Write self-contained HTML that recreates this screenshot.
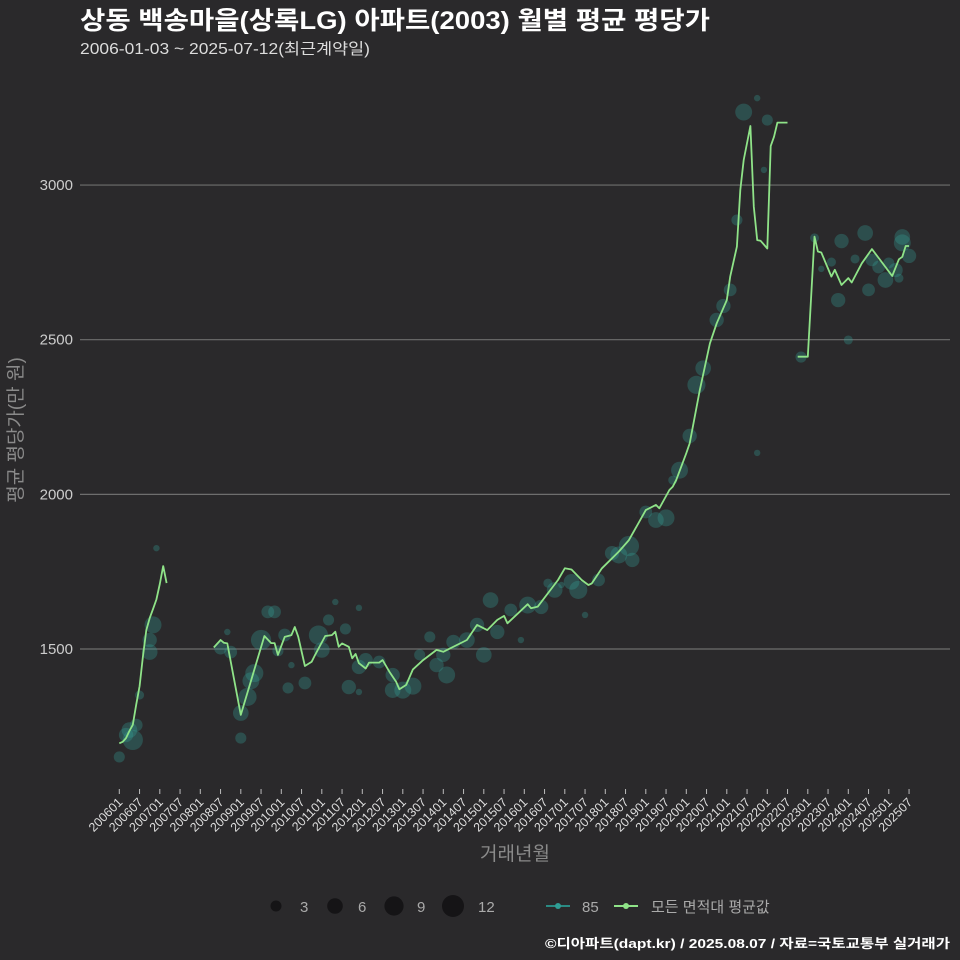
<!DOCTYPE html>
<html><head><meta charset="utf-8">
<style>
html,body{margin:0;padding:0;background:#2a292b;}
svg{display:block;font-family:"Liberation Sans","Noto Sans CJK KR",sans-serif;}
</style></head>
<body>
<svg id="chart" width="960" height="960" viewBox="0 0 960 960">
<rect width="960" height="960" fill="#2a292b"/>
<text x="80" y="29" font-size="25" font-weight="bold" fill="#ffffff" textLength="630" lengthAdjust="spacingAndGlyphs">상동 백송마을(상록LG) 아파트(2003) 월별 평균 평당가</text>
<text x="80" y="54" font-size="15.5" fill="#dddddd" textLength="290" lengthAdjust="spacingAndGlyphs">2006-01-03 ~ 2025-07-12(최근계약일)</text>
<g id="grid"></g>
<g id="yticks"></g>
<g id="xticks"></g>
<g id="bubbles"></g>
<g id="line"></g>
<text transform="translate(22,430) rotate(-90)" text-anchor="middle" font-size="19" fill="#8a8a8a">평균 평당가(만 원)</text>
<text x="515" y="860" text-anchor="middle" font-size="19" fill="#8a8a8a">거래년월</text>
<g>
<circle cx="276" cy="906" r="5.5" fill="#151416"/>
<text x="300" y="912" font-size="15" fill="#aaaaaa">3</text>
<circle cx="335" cy="906" r="7.8" fill="#151416"/>
<text x="358" y="912" font-size="15" fill="#aaaaaa">6</text>
<circle cx="394" cy="906" r="9.6" fill="#151416"/>
<text x="417" y="912" font-size="15" fill="#aaaaaa">9</text>
<circle cx="453" cy="906" r="11" fill="#151416"/>
<text x="478" y="912" font-size="15" fill="#aaaaaa">12</text>
</g>
<g>
<line x1="546" y1="906" x2="570" y2="906" stroke="#2a8a83" stroke-width="2"/>
<circle cx="558" cy="906" r="3" fill="#2f9e95"/>
<text x="582" y="912" font-size="15" fill="#aaaaaa">85</text>
<line x1="614" y1="906" x2="638" y2="906" stroke="#8fe388" stroke-width="2"/>
<circle cx="626" cy="906" r="3" fill="#8fe388"/>
<text x="651" y="912" font-size="15" fill="#aaaaaa">모든 면적대 평균값</text>
</g>
<text x="950" y="948" text-anchor="end" font-size="13" font-weight="bold" fill="#ffffff" textLength="405" lengthAdjust="spacingAndGlyphs">©디아파트(dapt.kr) / 2025.08.07 / 자료=국토교통부 실거래가</text>
</svg>
<script>
// y ticks
const yTicks = [1500, 2000, 2500, 3000];
// line series: months since 2006-01, null = gap
const lineMonths = [0,1,2,3,4,5,6,7,8,9,10,11,12,13,14,15,
28,30,31,32,36,43,45,46,47,49,51,52,53,55,57,58,61,63,64,65,66,68,69,70,71,73,74,77,78,80,82,83,85,87,90,94,96,103,106,109,112,114,115,121,122,124,130,132,134,137,139,140,143,148,151,156,159,160,163,164,165,168,169,172,175,177,180,181,183,184,185,187,188,189,190,192,193,194,195,198,199,
201,204,206,207,208,211,212,214,216,217,220,223,225,229,231,232,233,234];
const lineValues = [1195,1200,1212,1235,1255,1320,1380,1475,1561,1600,1630,1660,1710,1768,1713,null,
1505,1529,1520,1518,1287,1542,1519,1519,1481,1539,1545,1571,1540,1445,1459,1481,1542,1545,1556,1507,1518,1507,1470,1484,1454,1437,1456,1456,1464,1427,1394,1370,1384,1434,1464,1497,1491,1529,1578,1561,1594,1607,1583,1645,1632,1637,1723,1761,1757,1723,1707,1712,1761,1815,1852,1949,1966,1955,2014,2025,2046,2133,2165,2337,2488,2553,2628,2704,2801,2984,3081,3191,2930,2822,2820,2795,3126,3156,3202,3202,null,
2445,2445,2833,2785,2782,2704,2726,2677,2699,2685,2747,2793,2764,2706,2760,2768,2803,2803];
// bubble series (85㎡)
const bubMonths = [0,2,4,3,5,6,9,9,10,11,
30,32,33,36,36,38,39,40,42,44,46,49,51,50,47,55,59,60,62,64,67,68,71,71,71,73,77,81,81,84,87,89,92,94,96,97,99,103,106,108,110,112,116,119,121,125,127,129,131,134,136,138,142,146,148,151,152,156,159,162,164,166,169,171,173,177,179,181,183,185,189,189,191,192,
202,206,208,211,213,214,216,218,221,222,223,225,227,228,230,231,232,232,234];
const bubValues = [1151,1222,1206,1238,1254,1351,1490,1529,1578,1826,
1503,1555,1490,1212,1293,1345,1397,1422,1529,1620,1620,1545,1448,1374,1494,1390,1545,1497,1594,1652,1565,1377,1633,1361,1442,1464,1458,1416,1367,1367,1380,1481,1539,1448,1481,1416,1523,1529,1578,1481,1658,1555,1626,1529,1642,1636,1713,1691,1707,1717,1691,1610,1723,1810,1804,1833,1788,1943,1917,1924,2046,2078,2189,2354,2408,2564,2609,2661,2887,3236,3281,2134,3049,3210,
2444,2829,2729,2751,2628,2819,2499,2761,2845,2661,2758,2735,2693,2748,2725,2699,2813,2832,2771];
const bubCounts = [3,5,10,6,4,2,6,5,7,1,
4,1,4,3,6,8,7,8,10,4,4,4,1,3,3,4,9,6,3,1,3,5,1,1,5,5,4,5,6,7,7,3,3,5,5,7,5,6,5,6,6,5,4,1,7,5,2,6,1,6,8,1,4,5,7,10,5,4,6,7,2,7,5,8,6,5,5,4,3,7,1,1,1,3,
3,2,1,2,5,5,2,2,6,4,4,4,6,3,5,2,7,6,5];
const xTickLabels = [];
for (let y = 2006; y <= 2025; y++) { xTickLabels.push(y + "01"); xTickLabels.push(y + "07"); }

const NS = "http://www.w3.org/2000/svg";
function xScale(m){ return 119.3 + m * 3.375; }
function yScale(v){ return 649 - (v - 1500) * 0.3093; }
function mk(tag, attrs, parent){ const e = document.createElementNS(NS, tag); for (const k in attrs) e.setAttribute(k, attrs[k]); parent.appendChild(e); return e; }

const grid = document.getElementById('grid'), yt = document.getElementById('yticks');
yTicks.forEach(v => {
  const l = mk('line', {x1:80, x2:950, y1:yScale(v), y2:yScale(v), stroke:'#6e6e6e', 'stroke-width':1.2}, grid);
  
  
  const t = mk('text', {x:73, y:yScale(v)+5, 'text-anchor':'end', 'font-size':15, fill:'#cccccc'}, yt);
  t.textContent = v;
  
  
});
const xt = document.getElementById('xticks');
xTickLabels.forEach((lab, i) => {
  const x = xScale(i * 6);
  const tk = mk('line', {x1:x, x2:x, y1:789, y2:794, stroke:'#bbbbbb', 'stroke-width':1}, xt);
  
  
  const t = mk('text', {x:x+4, y:803, 'text-anchor':'end', 'font-size':12.5, fill:'#dddddd', transform:'rotate(-45 ' + (x+4) + ' 803)'}, xt);
  t.textContent = lab;
  
  
});
const bg = document.getElementById('bubbles');
bubMonths.forEach((m, i) => {
  const c = mk('circle', {cx:xScale(m), cy:yScale(bubValues[i]), r:3.2*Math.sqrt(bubCounts[i]), fill:'#35a096', 'fill-opacity':0.32}, bg);
  
  
});
const lg = document.getElementById('line');
let d = '', pen = false;
lineMonths.forEach((m, i) => {
  const v = lineValues[i];
  if (v === null) { pen = false; return; }
  d += (pen ? 'L' : 'M') + xScale(m).toFixed(1) + ',' + yScale(v).toFixed(1);
  pen = true;
});
const p = mk('path', {d:d, fill:'none', stroke:'#8fe388', 'stroke-width':1.8, 'stroke-linejoin':'round'}, lg);


</script>
</body></html>
